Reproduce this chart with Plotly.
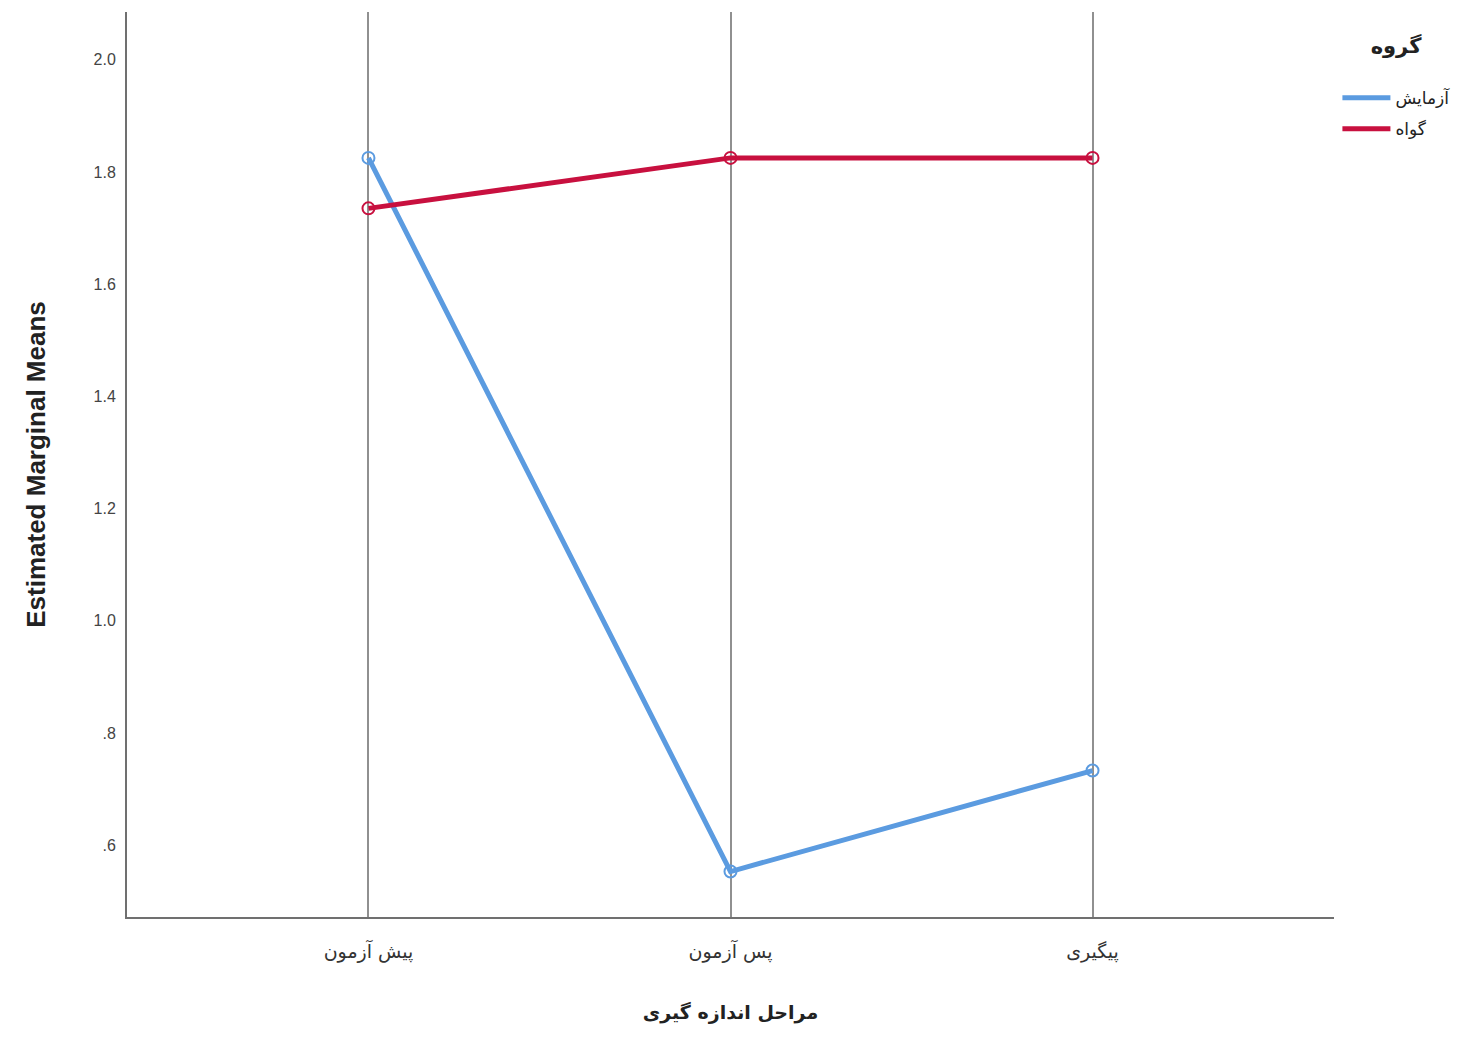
import plotly.graph_objects as go

stages = ["پیش آزمون", "پس آزمون", "پیگیری"]
group_names = ["آزمایش", "گواه"]
experimental = [1.825, 0.553, 0.733]
control = [1.735, 1.825, 1.825]
y_tickvals = [0.6, 0.8, 1.0, 1.2, 1.4, 1.6, 1.8, 2.0]
y_ticktext = [".6", ".8", "1.0", "1.2", "1.4", "1.6", "1.8", "2.0"]

colors = ["#5B9BE0", "#C8103F"]
series = [experimental, control]

fig = go.Figure()
for name, vals, col in zip(group_names, series, colors):
    fig.add_trace(go.Scatter(
        x=stages, y=vals, name=name, mode="lines+markers", showlegend=False,
        line=dict(color=col, width=5),
        marker=dict(symbol="circle-open", size=12, color=col, line=dict(width=2)),
    ))
for i, (name, col) in enumerate(zip(group_names, colors)):
    fig.add_trace(go.Scatter(
        x=[stages[0]], y=[None], name=name, mode="lines", legendgroup=f"g{i}",
        line=dict(color=col, width=5), hoverinfo="skip",
    ))

fig.update_layout(
    width=1450, height=1030,
    margin=dict(l=119, r=123, t=4, b=121),
    paper_bgcolor="white", plot_bgcolor="white",
    font=dict(family="Liberation Sans, DejaVu Sans, Arial", color="#222222"),
    legend=dict(
        x=1.002, y=0.985, xanchor="left", yanchor="top",
        title=dict(text="<b>گروه</b><br><span style='font-size:14px'> </span>", side="top center",
                   font=dict(size=21, family="DejaVu Sans")),
        font=dict(size=17, family="DejaVu Sans", color="#222222"),
        tracegroupgap=6, itemwidth=48,
    ),
    showlegend=True,
)
fig.update_xaxes(
    type="category", range=[-0.667, 2.667],
    showgrid=True, gridcolor="#909090", gridwidth=2,
    showline=True, linecolor="#707070", linewidth=2,
    ticks="", tickfont=dict(size=19, family="DejaVu Sans", color="#333333"),
    ticklabelstandoff=16,
    title=dict(text="<b>مراحل اندازه گیری</b>", font=dict(size=19, family="DejaVu Sans"), standoff=44),
    zeroline=False,
)
fig.update_yaxes(
    range=[0.472, 2.085],
    tickvals=y_tickvals, ticktext=y_ticktext,
    showgrid=False, showline=True, linecolor="#707070", linewidth=2,
    ticks="", tickfont=dict(size=16, color="#444444"),
    ticklabelstandoff=6,
    title=dict(text="<b>Estimated Marginal Means</b>", font=dict(size=26, color="#222222"), standoff=40),
    zeroline=False,
)

fig.write_html("out.html")
